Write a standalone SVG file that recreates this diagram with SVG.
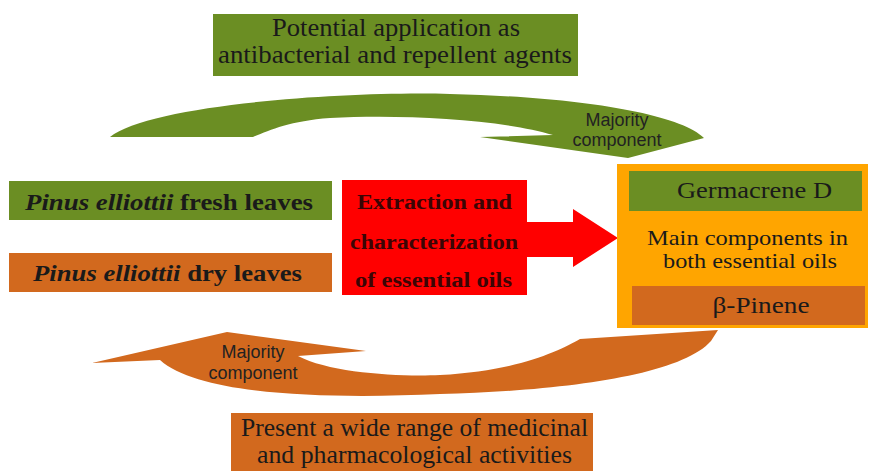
<svg xmlns="http://www.w3.org/2000/svg" width="870" height="471" viewBox="0 0 870 471">
<style>
.t{font-family:"Liberation Serif","Times New Roman",serif;fill:#1a1a1a;text-anchor:middle}
.b{font-weight:bold}
.i{font-style:italic}
.r{fill:#3b0505}
.s{font-family:"Liberation Sans",Arial,sans-serif;font-size:18px;fill:#222;text-anchor:middle}
.g{fill:#6b8e23}
.o{fill:#d2691e}
</style>
<rect width="870" height="471" fill="#fff"/>
<g id="connectors">
<path class="g" d="M110,137 C150,104 350,91 450,94 C580,97 680,114 704,138 L628,158 L480,137 L553,135 C500,119 400,114 330,118 C290,121 270,130 253,137 Z"/>
<text class="s" x="617" y="126">Majority</text>
<text class="s" x="617" y="146">component</text>
<path class="o" d="M92,363 L227,332 L366,351 L298,356 C330,373 400,377 440,375 C520,371 560,350 580,339 L718,330 L711,341 C680,376 560,391 440,394 C330,399 200,396 160,360 Z"/>
<text class="s" x="253" y="358">Majority</text>
<text class="s" x="253" y="379">component</text>
<path fill="#ff0000" d="M520,222 L573,222 L573,209 L618,238 L573,267 L573,257 L520,257 Z"/>
</g>
<g id="top-box">
<rect class="g" x="213" y="14" width="365" height="62"/>
<text class="t" x="396" y="36" font-size="25" textLength="248" lengthAdjust="spacingAndGlyphs">Potential application as</text>
<text class="t" x="395" y="63" font-size="25" textLength="354" lengthAdjust="spacingAndGlyphs">antibacterial and repellent agents</text>
</g>
<g id="fresh-leaves">
<rect class="g" x="9" y="181" width="323" height="39"/>
<text class="t b" x="169" y="210" font-size="23" textLength="288" lengthAdjust="spacingAndGlyphs"><tspan class="i">Pinus elliottii</tspan> fresh leaves</text>
</g>
<g id="dry-leaves">
<rect class="o" x="9" y="253" width="323" height="39"/>
<text class="t b" x="167.5" y="281" font-size="23" textLength="269" lengthAdjust="spacingAndGlyphs"><tspan class="i">Pinus elliottii</tspan> dry leaves</text>
</g>
<g id="extraction">
<rect fill="#ff0000" x="342" y="180" width="185" height="115"/>
<text class="t b r" x="434.5" y="209" font-size="20" textLength="155" lengthAdjust="spacingAndGlyphs">Extraction and</text>
<text class="t b r" x="434" y="249" font-size="20" textLength="168" lengthAdjust="spacingAndGlyphs">characterization</text>
<text class="t b r" x="433.5" y="287" font-size="20" textLength="157" lengthAdjust="spacingAndGlyphs">of essential oils</text>
</g>
<g id="main-components">
<rect fill="#ffa500" x="617" y="164" width="251" height="164"/>
<rect class="g" x="629" y="171" width="233" height="40"/>
<text class="t" x="754.5" y="198" font-size="24" textLength="155" lengthAdjust="spacingAndGlyphs">Germacrene D</text>
<text class="t" x="747.5" y="245" font-size="21" textLength="201" lengthAdjust="spacingAndGlyphs">Main components in</text>
<text class="t" x="750" y="268" font-size="21" textLength="174" lengthAdjust="spacingAndGlyphs">both essential oils</text>
<rect class="o" x="632" y="286" width="233" height="39"/>
<text class="t" x="761" y="313" font-size="24" textLength="97" lengthAdjust="spacingAndGlyphs">β-Pinene</text>
</g>
<g id="bottom-box">
<rect class="o" x="231" y="413" width="362" height="58"/>
<text class="t" x="414.5" y="436" font-size="25" textLength="347" lengthAdjust="spacingAndGlyphs">Present a wide range of medicinal</text>
<text class="t" x="414.5" y="463" font-size="25" textLength="315" lengthAdjust="spacingAndGlyphs">and pharmacological activities</text>
</g>
</svg>
